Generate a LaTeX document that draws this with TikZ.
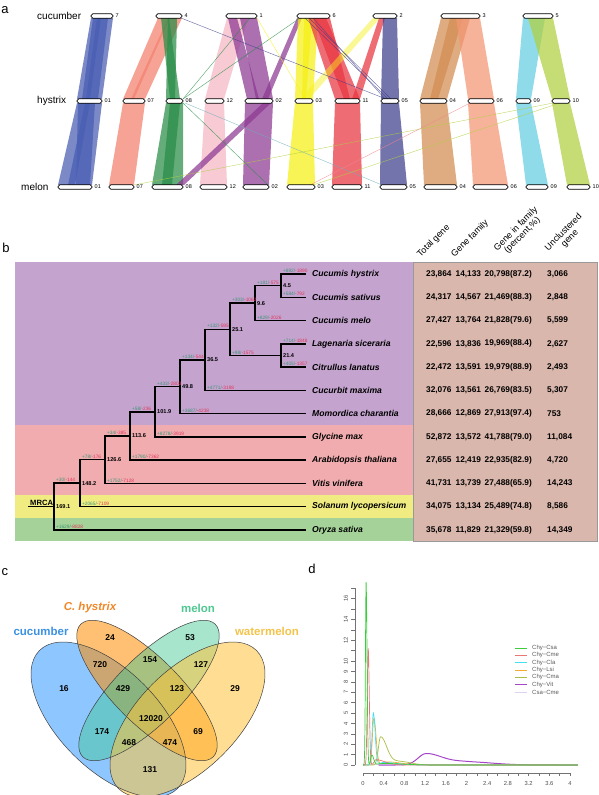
\documentclass[tikz,border=0pt]{standalone}
\usepackage{fontspec}
\setmainfont{Liberation Sans}
\usetikzlibrary{positioning,calc}

\definecolor{syBlue}{RGB}{72,92,178}
\definecolor{sySalmon}{RGB}{243,128,110}
\definecolor{syGreen}{RGB}{40,140,70}
\definecolor{syPink}{RGB}{244,182,196}
\definecolor{syPurple}{RGB}{140,55,145}
\definecolor{syYellow}{RGB}{245,240,20}
\definecolor{syRed}{RGB}{232,52,64}
\definecolor{syNavy}{RGB}{62,62,140}
\definecolor{syBrown}{RGB}{210,140,80}
\definecolor{syOrange}{RGB}{244,150,115}
\definecolor{syCyan}{RGB}{100,205,225}
\definecolor{syLime}{RGB}{176,208,64}

\definecolor{bandCuc}{RGB}{196,163,206}
\definecolor{bandRos}{RGB}{240,172,175}
\definecolor{bandSol}{RGB}{240,236,130}
\definecolor{bandMon}{RGB}{164,210,152}
\definecolor{tabBg}{RGB}{218,183,172}
\definecolor{gainC}{RGB}{60,150,120}
\definecolor{lossC}{RGB}{225,55,90}

\definecolor{vnCuc}{RGB}{30,144,255}
\definecolor{vnHys}{RGB}{255,140,0}
\definecolor{vnMel}{RGB}{60,198,144}
\definecolor{vnWat}{RGB}{255,195,60}
\definecolor{vnCucT}{RGB}{60,145,225}
\definecolor{vnHysT}{RGB}{240,135,40}
\definecolor{vnMelT}{RGB}{80,200,145}
\definecolor{vnWatT}{RGB}{243,195,75}

\definecolor{ksCsa}{RGB}{60,205,60}
\definecolor{ksCme}{RGB}{232,120,120}
\definecolor{ksCla}{RGB}{70,225,240}
\definecolor{ksLsi}{RGB}{240,175,50}
\definecolor{ksCma}{RGB}{170,190,70}
\definecolor{ksVit}{RGB}{165,70,200}
\definecolor{ksCsc}{RGB}{220,212,238}

\newcommand{\fs}[1]{\fontsize{#1}{#1}\selectfont}
% chromosome bar: name, x1, x2, y, label
\newcommand{\chrom}[5]{%
  \draw[chrbar] (#2,#4-2.2) rectangle (#3,#4+2.2);
  \node[chrnum] (#1) at (#3+2.5,#4) {#5};}
% syntenic ribbons cucumber->hystrix and hystrix->melon
\newcommand{\ribU}[5]{\fill[#1, opacity=0.72] (#2,18) -- (#3,18) -- (#5,99) -- (#4,99) -- cycle;}
\newcommand{\ribL}[5]{\fill[#1, opacity=0.72] (#2,103) -- (#3,103) -- (#5,185) -- (#4,185) -- cycle;}
% gain/loss label
\newcommand{\gl}[2]{\textcolor{gainC}{+#1/}\textcolor{lossC}{-#2}}

\tikzset{
  panel/.style={font=\fs{13}, inner sep=0pt},
  rowname/.style={font=\fs{10}, anchor=west, inner sep=0pt},
  chrbar/.style={draw=black, line width=0.7pt, fill=white, rounded corners=1.9pt},
  chrnum/.style={font=\fs{5.5}, anchor=west, inner sep=0pt},
  link/.style={line width=0.45pt, opacity=0.75},
  branch/.style={line width=1.5pt, line cap=rect},
  brlab/.style={font=\fs{4.8}, anchor=south west, inner sep=0.5pt, xshift=0.8pt},
  age/.style={font=\bfseries\fs{5.6}, anchor=west, inner sep=0pt, xshift=2pt},
  species/.style={font=\bfseries\itshape\fs{8.6}, anchor=west, inner sep=0pt},
  cell/.style={font=\bfseries\fs{8.3}, anchor=west, inner sep=0pt},
  colhead/.style={font=\fs{9}, rotate=45, anchor=south west, inner sep=0pt, align=center},
  setline/.style={draw=black!75, line width=0.5pt},
  setname/.style={font=\bfseries\fs{11.5}, inner sep=0pt},
  count/.style={font=\bfseries\fs{8.5}, inner sep=0pt},
  axis/.style={draw=black!55, line width=0.45pt},
  ticklab/.style={font=\fs{5.8}, text=black!70, inner sep=0pt},
  kscurve/.style={line width=0.7pt},
  legtext/.style={font=\fs{6}, text=black!65, anchor=west, inner sep=0pt}
}

\begin{document}
\begin{tikzpicture}[x=1pt, y=-1pt,
  declare function={
    pk(\qx,\qc,\ql,\qr)=exp(-(min(abs((\qx-\qc)/(((\qx<\qc)*\ql)+((\qx>=\qc)*\qr))),3))^2);
    fcsa(\qx)=17.6*pk(\qx,0.06,0.018,0.025)+0.95*pk(\qx,0.17,0.03,0.05)+0.15*pk(\qx,0.4,0.15,0.5);
    fcme(\qx)=11.2*pk(\qx,0.1,0.025,0.03)+0.5*pk(\qx,0.25,0.05,0.25);
    fcla(\qx)=5.0*pk(\qx,0.2,0.035,0.05)+0.25*pk(\qx,0.4,0.1,0.35);
    flsi(\qx)=4.5*pk(\qx,0.21,0.04,0.06)+0.3*pk(\qx,0.45,0.1,0.4);
    fcma(\qx)=2.7*pk(\qx,0.34,0.06,0.17)+0.35*pk(\qx,0.7,0.2,0.3);
    fvit(\qx)=1.1*pk(\qx,1.22,0.22,0.45)+0.3*pk(\qx,2.0,0.4,0.7);
  }]
  \useasboundingbox (0,0) rectangle (599,795);

  % ---------------- panel a: synteny ----------------
  \node[panel] (pa) at (5,10) {a};
  \node[rowname] (rCuc) at (37,16) {cucumber};
  \node[rowname] (rHys) at (37,101) {hystrix};
  \node[rowname] (rMel) at (21,187) {melon};

  % ribbons cucumber -> hystrix
  \ribU{syBlue}{91}{101}{77}{90}
  \ribU{syBlue}{97}{113}{86}{102}
  \ribU{syBlue}{93}{108}{82}{98}
  \ribU{sySalmon}{158}{170}{123}{134}
  \ribU{sySalmon}{168}{182}{131}{145}
  \ribU{syGreen}{161}{169}{170}{180}
  \ribU{syGreen}{168}{177}{166}{175}
  \ribU{syPink}{227}{248}{205}{224}
  \ribU{syPurple}{228}{237}{247}{259}
  \ribU{syPurple}{240}{257}{256}{273}
  \ribU{syPurple}{297}{302}{262}{268}
  \ribU{syYellow}{298}{312}{295}{306}
  \ribU{syYellow}{304}{318}{302}{313}
  \ribU{syRed}{308}{330}{335}{350}
  \ribU{syRed}{313}{326}{344}{360}
  \fill[syYellow, opacity=0.45] (373,18) -- (380,18) -- (309,99) -- (300,99) -- cycle;
  \ribU{syRed}{379}{385}{352}{360}
  \ribU{syNavy}{383}{397}{381}{399}
  \ribU{syBrown}{441}{463}{420}{438}
  \ribU{syBrown}{450}{470}{430}{447}
  \ribU{syOrange}{456}{480}{468}{494}
  \ribU{syCyan}{523}{545}{516}{531}
  \ribU{syLime}{528}{553}{552}{570}

  % ribbons hystrix -> melon
  \ribL{syBlue}{77}{90}{58}{75}
  \ribL{syBlue}{85}{102}{68}{92}
  \ribL{syBlue}{78}{95}{76}{90}
  \ribL{sySalmon}{123}{145}{109}{134}
  \ribL{syGreen}{166}{180}{152}{172}
  \ribL{syGreen}{170}{183}{162}{183}
  \ribL{syPink}{205}{224}{200}{227}
  \ribL{syPurple}{245}{273}{243}{269}
  \ribL{syPurple}{263}{271}{176}{184}
  \ribL{syYellow}{295}{313}{287}{315}
  \ribL{syRed}{335}{360}{332}{362}
  \ribL{syNavy}{381}{399}{380}{407}
  \ribL{syBrown}{420}{447}{424}{457}
  \ribL{syOrange}{468}{494}{473}{508}
  \ribL{syCyan}{516}{531}{526}{548}
  \ribL{syLime}{552}{570}{567}{590}

  % single links
  \draw[syNavy, link] (181,18) -- (386,99);
  \draw[syNavy, link] (305,18) -- (388,99);
  \draw[syNavy, link] (309,18) -- (391,99);
  \draw[syNavy, link] (313,18) -- (385,99);
  \draw[syGreen, link] (183,99) -- (250,18);
  \draw[syGreen, link] (183,99) -- (300,18);
  \draw[syGreen, link] (183,103) -- (268,185);
  \draw[syCyan!60!gray, link] (185,103) -- (382,185);
  \draw[syYellow, link] (257,18) -- (305,99);
  \draw[syLime, link] (134,185) -- (553,103);
  \draw[syLime, link] (313,185) -- (560,103);
  \draw[syRed!60, link] (310,185) -- (470,103);

  % chromosomes
  \chrom{c7}{91}{113}{16}{7}
  \chrom{c4}{156}{182}{16}{4}
  \chrom{c1}{226}{257}{16}{1}
  \chrom{c6}{297}{330}{16}{6}
  \chrom{c2}{373}{397}{16}{2}
  \chrom{c3}{441}{480}{16}{3}
  \chrom{c5}{523}{553}{16}{5}
  \chrom{h01}{77}{102}{101}{01}
  \chrom{h07}{123}{145}{101}{07}
  \chrom{h08}{166}{183}{101}{08}
  \chrom{h12}{205}{224}{101}{12}
  \chrom{h02}{245}{273}{101}{02}
  \chrom{h03}{295}{313}{101}{03}
  \chrom{h11}{335}{360}{101}{11}
  \chrom{h05}{381}{399}{101}{05}
  \chrom{h04}{420}{447}{101}{04}
  \chrom{h06}{468}{494}{101}{06}
  \chrom{h09}{516}{531}{101}{09}
  \chrom{h10}{552}{570}{101}{10}
  \chrom{m01}{58}{92}{187}{01}
  \chrom{m07}{109}{134}{187}{07}
  \chrom{m08}{152}{183}{187}{08}
  \chrom{m12}{200}{227}{187}{12}
  \chrom{m02}{243}{269}{187}{02}
  \chrom{m03}{287}{315}{187}{03}
  \chrom{m11}{332}{362}{187}{11}
  \chrom{m05}{380}{407}{187}{05}
  \chrom{m04}{424}{457}{187}{04}
  \chrom{m06}{473}{508}{187}{06}
  \chrom{m09}{526}{548}{187}{09}
  \chrom{m10}{567}{590}{187}{10}

  % ---------------- panel b: tree and table ----------------
  \node[panel] (pb) at (6,248) {b};
  \fill[bandCuc] (15,262) rectangle (413,425.2);
  \fill[bandRos] (15,425.2) rectangle (413,495);
  \fill[bandSol] (15,495) rectangle (413,518.3);
  \fill[bandMon] (15,518.3) rectangle (413,541);
  \fill[tabBg] (413,262) rectangle (597,541);
  \draw[black!40, line width=0.6pt] (413,262) rectangle (597,541);

  \node[colhead] (hTot) at (422,259) {Total gene};
  \node[colhead] (hFam) at (456,259) {Gene family};
  \node[colhead] (hInf) at (505,259) {Gene in family\\(percent,\%)};
  \node[colhead] (hUnc) at (556,259) {Unclustered\\gene};

  % leaves
  \foreach \nm [count=\i] in {hys,sat,mel,lag,cit,cma,mom,gly,ara,vit,sol,ory}
    \coordinate (\nm) at (305,{274+(\i-1)*23.27});
  \foreach \nm/\txt in {hys/Cucumis hystrix, sat/Cucumis sativus, mel/Cucumis melo,
      lag/Lagenaria siceraria, cit/Citrullus lanatus, cma/Cucurbit maxima,
      mom/Momordica charantia, gly/Glycine max, ara/Arabidopsis thaliana,
      vit/Vitis vinifera, sol/Solanum lycopersicum, ory/Oryza sativa}
    \node[species, right=7pt of \nm] (s\nm) {\txt};

  % internal nodes
  \coordinate (n45) at (281,285.64);
  \coordinate (n96) at (255,303.09);
  \coordinate (n214) at (281,355.45);
  \coordinate (n251) at (230,329.27);
  \coordinate (n365) at (205,359.81);
  \coordinate (n498) at (180,386.72);
  \coordinate (n1019) at (155,411.80);
  \coordinate (n1136) at (130,435.98);
  \coordinate (n1266) at (105,459.71);
  \coordinate (n1482) at (80,483.20);
  \coordinate (root) at (54,506.59);
  \coordinate (mrca) at (29,506.59);

  % branches
  \draw[branch] (n45) |- node[brlab]{\gl{892}{1890}} (hys);
  \draw[branch] (n45) |- node[brlab]{\gl{584}{792}} (sat);
  \draw[branch] (n96) |- node[brlab]{\gl{181}{575}} (n45);
  \draw[branch] (n96) |- node[brlab]{\gl{829}{2026}} (mel);
  \draw[branch] (n214) |- node[brlab]{\gl{714}{1848}} (lag);
  \draw[branch] (n214) |- node[brlab]{\gl{405}{1357}} (cit);
  \draw[branch] (n251) |- node[brlab]{\gl{303}{1062}} (n96);
  \draw[branch] (n251) |- node[brlab]{\gl{98}{1575}} (n214);
  \draw[branch] (n365) |- node[brlab]{\gl{132}{595}} (n251);
  \draw[branch] (n365) |- node[brlab]{\gl{4771}{3198}} (cma);
  \draw[branch] (n498) |- node[brlab]{\gl{134}{544}} (n365);
  \draw[branch] (n498) |- node[brlab]{\gl{3687}{4238}} (mom);
  \draw[branch] (n1019) |- node[brlab]{\gl{433}{2803}} (n498);
  \draw[branch] (n1019) |- node[brlab]{\gl{8278}{3919}} (gly);
  \draw[branch] (n1136) |- node[brlab]{\gl{58}{236}} (n1019);
  \draw[branch] (n1136) |- node[brlab]{\gl{1790}{7362}} (ara);
  \draw[branch] (n1266) |- node[brlab]{\gl{34}{385}} (n1136);
  \draw[branch] (n1266) |- node[brlab]{\gl{1752}{7128}} (vit);
  \draw[branch] (n1482) |- node[brlab]{\gl{78}{176}} (n1266);
  \draw[branch] (n1482) |- node[brlab]{\gl{2065}{7109}} (sol);
  \draw[branch] (root) |- node[brlab]{\gl{30}{144}} (n1482);
  \draw[branch] (root) |- node[brlab]{\gl{1629}{8828}} (ory);
  \draw[branch] (mrca) -- (root);
  \node[font=\bfseries\fs{7.6}, anchor=south west, inner sep=1pt] (mrcaLab) at (mrca) {MRCA};

  % node ages
  \foreach \nd/\yr in {n45/4.5, n96/9.6, n214/21.4, n251/25.1, n365/36.5, n498/49.8,
      n1019/101.9, n1136/113.6, n1266/126.6, n1482/148.2, root/169.1}
    \node[age] (age\nd) at (\nd) {\yr};

  % table values
  \foreach \ta/\tb/\tc/\td [count=\i] in {
      {23,864}/{14,133}/{20,798(87.2)}/{3,066},
      {24,317}/{14,567}/{21,469(88.3)}/{2,848},
      {27,427}/{13,764}/{21,828(79.6)}/{5,599},
      {22,596}/{13,836}/{19,969(88.4)}/{2,627},
      {22,472}/{13,591}/{19,979(88.9)}/{2,493},
      {32,076}/{13,561}/{26,769(83.5)}/{5,307},
      {28,666}/{12,869}/{27,913(97.4)}/{753},
      {52,872}/{13,572}/{41,788(79.0)}/{11,084},
      {27,655}/{12,419}/{22,935(82.9)}/{4,720},
      {41,731}/{13,739}/{27,488(65.9)}/{14,243},
      {34,075}/{13,134}/{25,489(74.8)}/{8,586},
      {35,678}/{11,829}/{21,329(59.8)}/{14,349}} {
    \pgfmathsetmacro\ry{274+(\i-1)*23.27}
    \node[cell] (tot\i) at (426,\ry) {\ta};
    \node[cell] (fam\i) at (455.5,\ry) {\tb};
    \node[cell] (inf\i) at (484.5,\ry) {\tc};
    \node[cell] (unc\i) at (547,\ry) {\td};
  }

  % ---------------- panel c: Venn ----------------
  \node[panel] (pc) at (5,572) {c};
  \fill[vnCuc, fill opacity=0.5, rotate around={-45:(108.5,719.5)}]
    (108.5,719.5) ellipse [x radius=97.6pt, y radius=49.8pt];
  \fill[vnHys, fill opacity=0.55, rotate around={-45:(147,690.5)}]
    (147,690.5) ellipse [x radius=93.7pt, y radius=33pt];
  \fill[vnMel, fill opacity=0.45, rotate around={45:(149,690.5)}]
    (149,690.5) ellipse [x radius=93.7pt, y radius=33pt];
  \fill[vnWat, fill opacity=0.55, rotate around={45:(187.5,719.5)}]
    (187.5,719.5) ellipse [x radius=97.6pt, y radius=49.8pt];
  \draw[setline, rotate around={-45:(108.5,719.5)}]
    (108.5,719.5) ellipse [x radius=97.6pt, y radius=49.8pt];
  \draw[setline, rotate around={-45:(147,690.5)}]
    (147,690.5) ellipse [x radius=93.7pt, y radius=33pt];
  \draw[setline, rotate around={45:(149,690.5)}]
    (149,690.5) ellipse [x radius=93.7pt, y radius=33pt];
  \draw[setline, rotate around={45:(187.5,719.5)}]
    (187.5,719.5) ellipse [x radius=97.6pt, y radius=49.8pt];

  \node[setname, text=vnCucT] (tCuc) at (41,631) {cucumber};
  \node[setname, text=vnHysT] (tHys) at (90,608) {\itshape C. hystrix};
  \node[setname, text=vnMelT] (tMel) at (198,608) {melon};
  \node[setname, text=vnWatT] (tWat) at (267,631) {watermelon};

  \foreach \vx/\vy/\n in {110/638/24, 190/638/53, 64/689/16, 235/689/29,
      100/665/720, 150/660/154, 201/665/127, 123/689/429, 177/689/123,
      151/719/12020, 102/732/174, 198/732/69, 129/743/468, 170/743/474, 150/770/131}
    \node[count] (v\n) at (\vx,\vy) {\n};

  % ---------------- panel d: Ks density ----------------
  \node[panel] (pd) at (312,569) {d};
  \begin{scope}[shift={(363,765)}, x=51.75pt, y=10.4pt]
    \draw[axis] (-0.155,0) -- (-0.155,17);
    \foreach \t in {0,...,17}
      \draw[axis] (-0.155,\t) -- ++(-3.5pt,0);
    \foreach \t in {0,...,10,12,14,16}
      \node[ticklab, rotate=90] (yl\t) at (-0.33,\t) {\t};
    \draw[axis] (0,-0.77) -- (4,-0.77);
    \foreach \k in {0,...,20}
      \draw[axis] (\k/5,-0.77) -- ++(0,-3pt);
    \foreach \t/\lab in {0/0,0.4/0.4,0.8/0.8,1.2/1.2,1.6/1.6,2/2,2.4/2.4,2.8/2.8,3.2/3.2,3.6/3.6,4/4}
      \node[ticklab] (xl\lab) at (\t,-1.75) {\lab};

    \draw[ksCsc, kscurve] (0,0.05) -- (4.15,0.03);
    \draw[ksVit, line width=1pt] plot[domain=0.3:4.15, samples=90] (\x,{fvit(\x)});
    \draw[ksCma, kscurve] plot[domain=0:0.7, samples=90] (\x,{fcma(\x)})
      -- plot[domain=0.7:4.15, samples=60] (\x,{fcma(\x)});
    \draw[ksLsi, kscurve] plot[domain=0:0.7, samples=120] (\x,{flsi(\x)})
      -- plot[domain=0.7:4.15, samples=60] (\x,{flsi(\x)});
    \draw[ksCla, kscurve] plot[domain=0:0.7, samples=120] (\x,{fcla(\x)})
      -- plot[domain=0.7:4.15, samples=60] (\x,{fcla(\x)});
    \draw[ksCme, kscurve] plot[domain=0:0.7, samples=176] (\x,{fcme(\x)})
      -- plot[domain=0.7:4.15, samples=60] (\x,{fcme(\x)});
    \draw[ksCsa, kscurve] plot[domain=0:0.7, samples=176] (\x,{fcsa(\x)})
      -- plot[domain=0.7:4.15, samples=60] (\x,{fcsa(\x)});
  \end{scope}

  % legend
  \foreach \col/\lab [count=\i] in {ksCsa/Chy−Csa, ksCme/Chy−Cme, ksCla/Chy−Cla,
      ksLsi/Chy−Lsi, ksCma/Chy−Cma, ksVit/Chy−Vit, ksCsc/Csa−Cme} {
    \draw[\col, line width=0.7pt] (515,{648+(\i-1)*7.35}) -- ++(12,0);
    \node[legtext] (lg\i) at (532,{648+(\i-1)*7.35}) {\lab};
  }
\end{tikzpicture}
\end{document}
